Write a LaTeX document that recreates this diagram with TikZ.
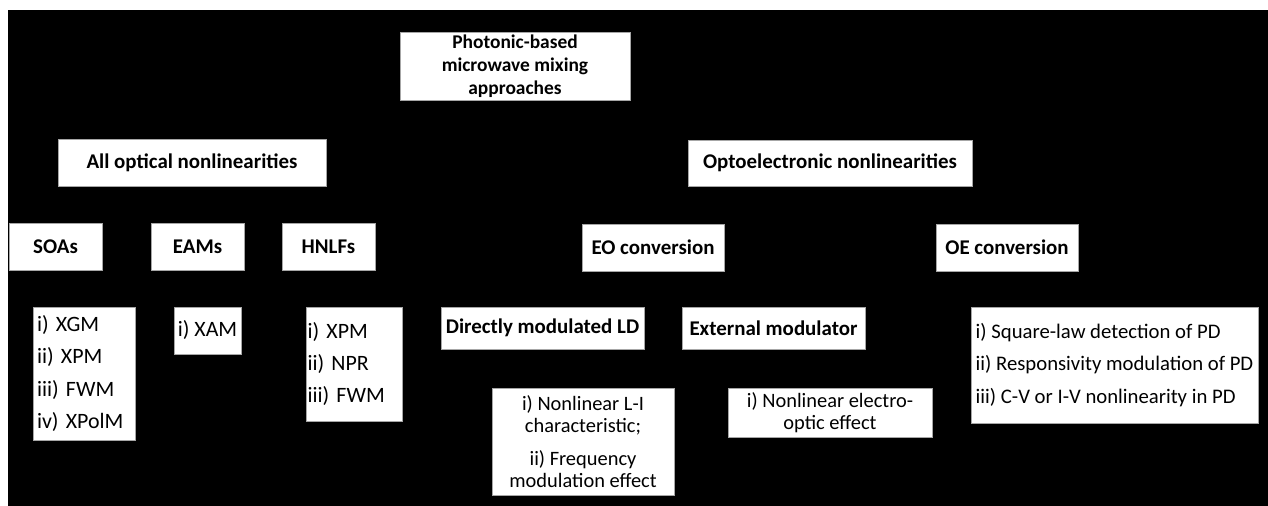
\documentclass[tikz,border=0pt]{standalone}
\usepackage{fontspec}
\setmainfont{Carlito}
\begin{document}
\begin{tikzpicture}[x=1bp,y=-1bp,
  box/.style={draw=black!35, line width=0.6bp, fill=white, inner sep=0pt, outer sep=0pt},
  head/.style={box, align=center, font=\fontsize{21}{23.5}\selectfont\bfseries},
  lst/.style={box, align=left, font=\fontsize{22}{32.5}\selectfont},
  para/.style={box, align=center, font=\fontsize{20.5}{22.5}\selectfont}]
\useasboundingbox (0,0) rectangle (1268,506);
\fill[white] (0,0) rectangle (1268,506);
\fill[black] (8,10) rectangle (1268,506);

% level 0
\node[head, font=\fontsize{19.5}{23.3}\selectfont\bfseries, minimum width=230bp, minimum height=68bp] (root) at (515,66)
  {Photonic-based\\microwave mixing\\approaches};

% level 1
\node[head, minimum width=268bp, minimum height=47bp] (allopt) at (192,162.5) {All optical nonlinearities};
\node[head, minimum width=284bp, minimum height=46bp] (opto) at (830,163) {Optoelectronic nonlinearities};

% level 2
\node[head, minimum width=93bp, minimum height=47bp] (soa) at (55.5,246.5) {SOAs};
\node[head, minimum width=93bp, minimum height=47bp] (eam) at (197.5,246.5) {EAMs};
\node[head, minimum width=93bp, minimum height=47bp] (hnlf) at (328.5,246.5) {HNLFs};
\node[head, minimum width=142bp, minimum height=47bp] (eo) at (653,247.5) {EO conversion};
\node[head, minimum width=142bp, minimum height=47bp] (oe) at (1007,247.5) {OE conversion};

% level 3
\node[lst, inner xsep=4bp, text width=94bp, minimum height=133bp] (soalist) at (84,373.5)
  {i) XGM\\ii) XPM\\iii) FWM\\iv) XPolM};
\node[lst, minimum width=67bp, minimum height=47bp] (xam) at (207.5,330.5)
  {i) XAM};
\node[lst, inner xsep=1.5bp, text width=93bp, minimum height=114bp] (hnlflist) at (354,364)
  {i) XPM\\ii) NPR\\iii) FWM};
\node[head, minimum width=203bp, minimum height=42bp] (dml) at (542.5,328) {Directly modulated LD};
\node[head, minimum width=183bp, minimum height=42bp] (ext) at (773.5,328) {External modulator};
\node[lst, font=\fontsize{20.8}{32.5}\selectfont, minimum width=287bp, minimum height=116bp] (oelist) at (1114.5,365)
  {i) Square-law detection of PD\\ii) Responsivity modulation of PD\\iii) C-V or I-V nonlinearity in PD};

% level 4
\node[para, minimum width=182bp, minimum height=107bp] (li) at (583,441.5)
  {i) Nonlinear L-I\\characteristic;\\[10bp]ii) Frequency\\modulation effect};
\node[para, minimum width=204bp, minimum height=49bp] (eoe) at (830,412.5)
  {i) Nonlinear electro-\\optic effect};
\end{tikzpicture}
\end{document}
